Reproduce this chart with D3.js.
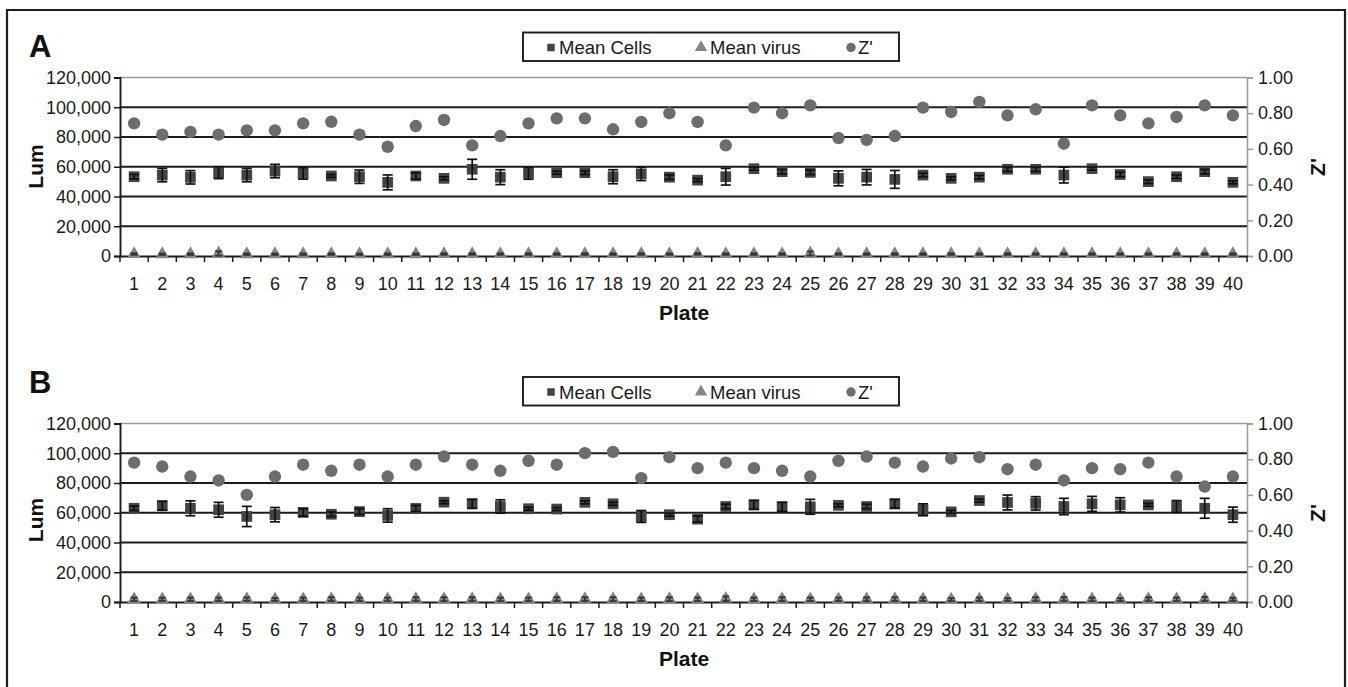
<!DOCTYPE html>
<html>
<head>
<meta charset="utf-8">
<script src="https://cdn.jsdelivr.net/npm/d3@7"></script>
<style>
  html, body { margin: 0; padding: 0; background: #fff; }
  svg { display: block; font-family: "Liberation Sans", Arial, sans-serif; }
</style>
</head>
<body>
<svg id="chart" width="1348" height="687"></svg>
<script>
// Plate numbers shared by both panels
const plates = ["1","2","3","4","5","6","7","8","9","10","11","12","13","14","15","16","17","18","19","20",
                "21","22","23","24","25","26","27","28","29","30","31","32","33","34","35","36","37","38","39","40"];

const lumTicks = [0, 20000, 40000, 60000, 80000, 100000, 120000];
const zTicks = [0, 0.2, 0.4, 0.6, 0.8, 1.0];
const legendLabels = ["Mean Cells", "Mean virus", "Z'"];

// Panel A
const cellsA = [53300,54400,52900,56000,54400,57100,55600,53800,53300,49500,53800,52200,58300,53000,55600,56000,56000,53300,55200,53000,
                51000,53300,58700,56700,56200,52200,53000,51500,54400,52200,53000,58300,58300,54400,58700,54800,50000,53300,56700,49500];
const cellsErrA = [1500,4500,4500,4000,4500,4500,3900,1000,4500,5000,2000,1000,6700,5000,4000,1000,1200,4700,4500,1500,
                   1000,5600,1000,1500,1500,5000,5200,6000,1200,1000,1200,1500,1500,5300,1000,1500,1200,1200,1500,1000];
const virusA = [1300,1200,1200,1700,1200,1200,1200,1300,1200,1200,1200,1300,1300,1300,1300,1300,1300,1300,1300,1300,
                1400,1300,1300,1300,1700,1300,1300,1300,1300,1300,1300,1300,1300,1300,1300,1300,1300,1300,1300,1300];
const virusErrA = [500,500,500,1500,500,500,500,500,500,500,500,500,500,500,500,500,500,500,500,500,
                   500,500,500,500,1400,500,500,500,500,500,500,500,500,500,500,500,500,500,500,500];
const zA = [0.743,0.68,0.695,0.68,0.704,0.704,0.743,0.752,0.68,0.612,0.728,0.762,0.62,0.672,0.743,0.771,0.771,0.71,0.751,0.80,
            0.751,0.62,0.831,0.80,0.844,0.661,0.65,0.672,0.831,0.807,0.863,0.788,0.822,0.629,0.844,0.788,0.743,0.779,0.844,0.788];

// Panel B
const cellsB = [63000,64700,63000,62000,57500,58700,60200,59000,60800,58200,62900,67100,66000,64200,62700,62500,67000,66000,57500,58700,
                55700,64200,65300,64000,64000,65000,64200,66000,62000,60600,68200,66900,66300,64200,66000,65300,65300,64200,63000,58700];
const cellsErrB = [1500,3000,5000,5000,6800,4800,2500,1500,2000,4500,2000,1000,3000,4500,1000,1000,1000,1000,4000,1000,
                   2000,1500,3000,3000,5000,1000,1500,3000,4000,1000,1000,5000,4500,5500,5000,4800,1000,4000,6700,5100];
const virusB = [1800,1800,1800,1800,1900,1700,1800,1900,1800,1800,1900,1900,1900,1800,1800,1900,1900,1900,1800,1900,
                1800,2200,1800,1900,1800,1800,1800,1900,1800,1600,1800,1600,1900,1900,1800,1600,1900,1800,2000,1700];
const virusErrB = [1200,1100,1200,1200,1200,1000,1200,1300,1200,1200,1300,1300,1300,1200,1200,1300,1300,1300,1200,1300,
                   1200,1600,1200,1300,1200,1200,1300,1300,1200,1000,1200,1000,1300,1300,1200,1000,1300,1200,1400,1100];
const zB = [0.781,0.759,0.703,0.681,0.60,0.703,0.769,0.735,0.769,0.703,0.769,0.815,0.769,0.735,0.791,0.769,0.834,0.841,0.694,0.811,
            0.75,0.781,0.75,0.735,0.703,0.791,0.815,0.781,0.759,0.804,0.811,0.744,0.769,0.681,0.75,0.744,0.781,0.703,0.647,0.703];

const COL_CELLS = "#444444", COL_VIRUS = "#858585", COL_Z = "#6d6d6d";
const svg = d3.select("#chart");

svg.append("rect").attr("width", 1348).attr("height", 687).attr("fill", "#fff");
// outer frame, open at the bottom edge
svg.append("path").attr("d", "M7,700V10H1345V700")
  .attr("fill", "none").attr("stroke", "#1e1e1e").attr("stroke-width", 2.2);

const x = d3.scaleBand().domain(plates).range([120, 1247]).paddingInner(0).paddingOuter(0);

function drawPanel(opt) {
  const g = svg.append("g").attr("transform", `translate(0,${opt.dy})`);
  const y = d3.scaleLinear().domain([0, 120000]).range([256, 77.5]);
  const z = d3.scaleLinear().domain([0, 1]).range([256, 77.5]);
  const cx = d => x(d) + x.bandwidth() / 2;

  // horizontal gridlines on the Lum scale
  g.append("g").selectAll("line").data(lumTicks.filter(v => v > 0)).join("line")
    .attr("x1", 120).attr("x2", 1247)
    .attr("y1", d => y(d)).attr("y2", d => y(d))
    .attr("stroke", d => d === 120000 ? "#9a9a9a" : "#1c1c1c")
    .attr("stroke-width", d => d === 120000 ? 1.5 : 1.9);

  // left axis
  const left = g.append("g").attr("transform", "translate(120,0)")
    .call(d3.axisLeft(y).tickValues(lumTicks).tickFormat(d3.format(",")).tickSize(6).tickPadding(3));
  left.select(".domain").attr("stroke", "#1c1c1c").attr("stroke-width", 1.9);
  left.selectAll(".tick line").attr("stroke", "#1c1c1c").attr("stroke-width", 1.5);
  left.selectAll("text").attr("font-size", 18).attr("fill", "#1a1a1a")
    .attr("font-family", "Liberation Sans, Arial, sans-serif");

  // right axis (Z')
  const right = g.append("g").attr("transform", "translate(1247,0)")
    .call(d3.axisRight(z).tickValues(zTicks).tickFormat(d3.format(".2f")).tickSize(6).tickPadding(5));
  right.select(".domain").attr("stroke", "#9a9a9a").attr("stroke-width", 1.5);
  right.selectAll(".tick line").attr("stroke", "#9a9a9a").attr("stroke-width", 1.5);
  right.selectAll("text").attr("font-size", 18).attr("fill", "#1a1a1a")
    .attr("font-family", "Liberation Sans, Arial, sans-serif");

  // bottom axis: labels centred on plates, tick marks between plates
  const bottom = g.append("g").attr("transform", `translate(0,${y(0)})`)
    .call(d3.axisBottom(x).tickSize(0).tickPadding(21));
  bottom.select(".domain").attr("stroke", "#1c1c1c").attr("stroke-width", 1.9);
  bottom.selectAll("text").attr("font-size", 18).attr("fill", "#1a1a1a")
    .attr("font-family", "Liberation Sans, Arial, sans-serif");
  const bounds = plates.map(p => x(p)).concat([x.range()[1]]);
  g.append("g").selectAll("line").data(bounds).join("line")
    .attr("x1", d => d).attr("x2", d => d)
    .attr("y1", y(0)).attr("y2", y(0) + 6)
    .attr("stroke", "#1c1c1c").attr("stroke-width", 1.5);

  // axis titles
  g.append("text").attr("transform", `translate(43,${opt.lumY}) rotate(-90)`)
    .attr("text-anchor", "middle").attr("font-weight", "bold").attr("font-size", 21).attr("fill", "#111").text("Lum");
  g.append("text").attr("transform", `translate(1325,${opt.zY}) rotate(-90)`)
    .attr("text-anchor", "middle").attr("font-weight", "bold").attr("font-size", 21).attr("fill", "#111").text("Z'");
  g.append("text").attr("x", 684).attr("y", opt.plateY)
    .attr("text-anchor", "middle").attr("font-weight", "bold").attr("font-size", 21).attr("fill", "#111").text("Plate");
  g.append("text").attr("x", 29).attr("y", opt.letterY)
    .attr("font-weight", "bold").attr("font-size", 31).attr("fill", "#111").text(opt.letter);

  // legend
  const lg = g.append("g").attr("transform", `translate(0,${opt.legendY})`);
  lg.append("rect").attr("x", 523).attr("y", 0).attr("width", 376).attr("height", 28.5)
    .attr("fill", "#fff").attr("stroke", "#1c1c1c").attr("stroke-width", 1.9);
  const items = [
    {label: legendLabels[0], sym: d3.symbolSquare, size: 56, col: COL_CELLS, mx: 551, tx: 559},
    {label: legendLabels[1], sym: d3.symbolTriangle, size: 66, col: COL_VIRUS, mx: 701, tx: 710},
    {label: legendLabels[2], sym: d3.symbolCircle, size: 70, col: COL_Z, mx: 851, tx: 858}
  ];
  items.forEach(it => {
    lg.append("path").attr("d", d3.symbol(it.sym, it.size)())
      .attr("transform", `translate(${it.mx},15)`).attr("fill", it.col);
    lg.append("text").attr("x", it.tx).attr("y", 21.5).attr("font-size", 18.5).attr("fill", "#1a1a1a").text(it.label);
  });

  const rows = plates.map((p, i) => ({
    p, cells: opt.cells[i], cellsErr: opt.cellsErr[i],
    virus: opt.virus[i], virusErr: opt.virusErr[i], z: opt.z[i]
  }));

  // Z' circles
  g.append("g").selectAll("circle").data(rows).join("circle")
    .attr("cx", d => cx(d.p)).attr("cy", d => z(d.z)).attr("r", 6.2).attr("fill", COL_Z);

  // Mean virus triangles
  g.append("g").selectAll("path").data(rows).join("path")
    .attr("d", d3.symbol(d3.symbolTriangle, 80)())
    .attr("transform", d => `translate(${cx(d.p)},${y(d.virus)})`).attr("fill", COL_VIRUS);

  // Mean cells squares
  g.append("g").selectAll("path").data(rows).join("path")
    .attr("d", d3.symbol(d3.symbolSquare, 115)())
    .attr("transform", d => `translate(${cx(d.p)},${y(d.cells)})`).attr("fill", COL_CELLS);

  // error bars (drawn over the markers)
  function errorBars(getV, getE, col, cap) {
    const eg = g.append("g").attr("stroke", col).attr("stroke-width", 1.7);
    eg.selectAll("line.v").data(rows).join("line").attr("class", "v")
      .attr("x1", d => cx(d.p)).attr("x2", d => cx(d.p))
      .attr("y1", d => y(getV(d) - getE(d))).attr("y2", d => y(getV(d) + getE(d)));
    eg.selectAll("line.t").data(rows).join("line").attr("class", "t")
      .attr("x1", d => cx(d.p) - cap).attr("x2", d => cx(d.p) + cap)
      .attr("y1", d => y(getV(d) + getE(d))).attr("y2", d => y(getV(d) + getE(d)));
    eg.selectAll("line.b").data(rows).join("line").attr("class", "b")
      .attr("x1", d => cx(d.p) - cap).attr("x2", d => cx(d.p) + cap)
      .attr("y1", d => y(getV(d) - getE(d))).attr("y2", d => y(getV(d) - getE(d)));
  }
  errorBars(d => d.cells, d => d.cellsErr, "#111", 5);
  errorBars(d => d.virus, d => d.virusErr, "#333", 3.5);
}

drawPanel({dy: 0, letter: "A", letterY: 57, lumY: 166.5, zY: 167, plateY: 320, legendY: 32.5,
           cells: cellsA, cellsErr: cellsErrA, virus: virusA, virusErr: virusErrA, z: zA});
drawPanel({dy: 346, letter: "B", letterY: 47, lumY: 174, zY: 167, plateY: 320, legendY: 31,
           cells: cellsB, cellsErr: cellsErrB, virus: virusB, virusErr: virusErrB, z: zB});
</script>
</body>
</html>
